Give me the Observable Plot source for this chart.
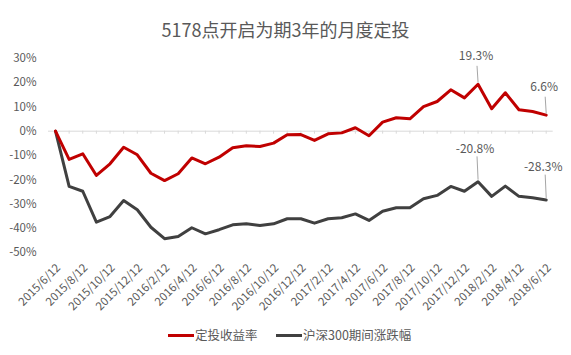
<!DOCTYPE html>
<html><head><meta charset="utf-8">
<script src="https://cdn.jsdelivr.net/npm/d3@7"></script>
<script src="https://cdn.jsdelivr.net/npm/@observablehq/plot@0.6"></script>
<style>
body{margin:0;background:#fff;font-family:"Noto Sans CJK SC","Noto Sans",sans-serif;}
#wrap{position:relative;width:571px;height:355px;overflow:hidden;background:#fff;}
#title{position:absolute;top:17px;left:0;width:571px;text-align:center;font-size:18px;line-height:24px;color:#595959;}
#chart{position:absolute;top:40px;left:0;}
.sw{position:absolute;height:3px;}
.lt{position:absolute;font-size:12.5px;line-height:16px;color:#595959;white-space:nowrap;}
</style></head><body>
<div id="wrap">
  <div id="title">5178点开启为期3年的月度定投</div>
  <div id="chart"></div>
  <div class="sw" style="left:168px;top:334px;width:26px;background:#c00000"></div>
  <div class="lt" style="left:195px;top:327px;">定投收益率</div>
  <div class="sw" style="left:276px;top:334px;width:26px;background:#404040"></div>
  <div class="lt" style="left:303px;top:327px;">沪深300期间涨跌幅</div>
</div>
<script>
const dates = [
  "2015/6/12","2015/7/12","2015/8/12","2015/9/12","2015/10/12","2015/11/12","2015/12/12",
  "2016/1/12","2016/2/12","2016/3/12","2016/4/12","2016/5/12","2016/6/12","2016/7/12",
  "2016/8/12","2016/9/12","2016/10/12","2016/11/12","2016/12/12","2017/1/12","2017/2/12",
  "2017/3/12","2017/4/12","2017/5/12","2017/6/12","2017/7/12","2017/8/12","2017/9/12",
  "2017/10/12","2017/11/12","2017/12/12","2018/1/12","2018/2/12","2018/3/12","2018/4/12",
  "2018/5/12","2018/6/12"
];
const xTickLabels = dates.filter((d, i) => i % 2 === 0);
const yTicks = [-50, -40, -30, -20, -10, 0, 10, 20, 30];

const investReturn = [0, -11.6, -9.3, -18.2, -13.4, -6.6, -9.7, -17.3, -20.3, -17.5, -11.0, -13.4,
  -10.7, -6.8, -6.0, -6.3, -4.9, -1.5, -1.4, -3.8, -1.1, -0.7, 1.4, -1.9, 3.7, 5.5, 5.1,
  10.1, 12.2, 17.0, 13.7, 19.3, 9.2, 15.8, 8.8, 8.1, 6.6];
const hs300Change = [0, -22.7, -24.7, -37.4, -35.1, -28.5, -32.3, -39.5, -44.2, -43.3, -39.7, -42.2,
  -40.5, -38.5, -38.1, -38.8, -38.1, -36.0, -36.0, -37.8, -36.0, -35.6, -34.0, -36.7, -32.9,
  -31.5, -31.5, -27.8, -26.4, -22.7, -24.7, -20.8, -26.8, -22.6, -26.8, -27.4, -28.3];

const seriesNames = ["定投收益率", "沪深300期间涨跌幅"];
const labelDates = ["2018/1/12", "2018/6/12"];

const red = "#c00000", gray = "#404040";
const redData = dates.map((d, i) => ({date: d, value: investReturn[i]}));
const grayData = dates.map((d, i) => ({date: d, value: hs300Change[i]}));
const redAnn = redData.filter(d => labelDates.includes(d.date));
const grayAnn = grayData.filter(d => labelDates.includes(d.date));

const leader = (start) => ({draw(ctx, l) { ctx.moveTo(0, -start); ctx.lineTo(-1, -l); }});

const chart = Plot.plot({
  width: 571, height: 285,
  marginLeft: 55, marginRight: 25.3, marginTop: 17.7, marginBottom: 72.7,
  style: {fontFamily: '"Noto Sans CJK SC","Noto Sans",sans-serif', fontSize: "11.5px", color: "#595959", background: "transparent"},
  x: {type: "point", domain: dates, padding: 0, round: false},
  y: {domain: [-50, 30]},
  marks: [
    Plot.axisY({ticks: yTicks, tickSize: 0, tickPadding: 19, tickFormat: d => d + "%", label: null}),
    Plot.axisX({ticks: xTickLabels, tickSize: 0, tickPadding: 13, dx: 3, tickRotate: -45, label: null}),
    Plot.ruleY([0], {stroke: "#d9d9d9", insetLeft: -7, insetRight: -7}),
    Plot.ruleX(dates, {x: d => d, y1: () => 0, y2: () => 0, insetBottom: -3, stroke: "#d9d9d9"}),
    Plot.line(grayData, {x: "date", y: "value", stroke: gray, strokeWidth: 3, strokeLinejoin: "round"}),
    Plot.line(redData, {x: "date", y: "value", stroke: red, strokeWidth: 3, strokeLinejoin: "round"}),
    Plot.vector(redAnn, {x: "date", y: "value", length: 18, rotate: 0, anchor: "start", stroke: "#a6a6a6", strokeWidth: 1, shape: leader(2)}),
    Plot.vector(grayAnn, {x: "date", y: "value", length: 25, rotate: 0, anchor: "start", stroke: "#a6a6a6", strokeWidth: 1, shape: leader(2.5)}),
    Plot.text(redAnn, {x: "date", y: "value", text: d => d.value.toFixed(1) + "%", dy: -28, dx: -2, fill: "#595959", fontSize: 12}),
    Plot.text(grayAnn, {x: "date", y: "value", text: d => d.value.toFixed(1) + "%", dy: -33, dx: -3, fill: "#595959", fontSize: 12})
  ]
});
document.getElementById("chart").appendChild(chart);
</script>
</body></html>
